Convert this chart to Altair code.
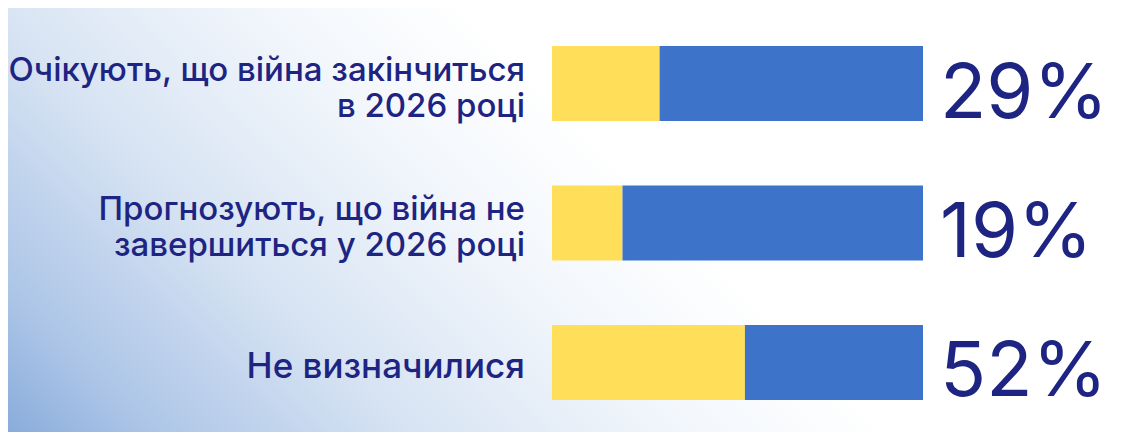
import altair as alt
import pandas as pd

categories = [
    "Очікують, що війна закінчиться\nв 2026 році",
    "Прогнозують, що війна не\nзавершиться у 2026 році",
    "Не визначилися",
]
values = [29, 19, 52]
pct_labels = ["29%", "19%", "52%"]

df = pd.DataFrame({"cat": categories, "value": values, "pct": pct_labels})

W, H = 1106, 424
NAVY = "#1E2482"
YELLOW = "#FFDE59"
BLUE = "#3D73C9"
LH = 36

xscale = alt.Scale(domain=[0, 100], range=[544, 915])
yscale = alt.Scale(domain=categories, range=[38, 392], paddingInner=0.462, paddingOuter=0)

bg = alt.Chart(pd.DataFrame({"a": [0]})).mark_rect(
    fill={
        "gradient": "linear",
        "x1": 0, "y1": 1.03, "x2": 0.709, "y2": 0.758,
        "stops": [
            {"offset": 0, "color": "#86AADA"},
            {"offset": 0.17, "color": "#ACC5E7"},
            {"offset": 0.47, "color": "#D8E4F3"},
            {"offset": 0.78, "color": "#F3F7FC"},
            {"offset": 1, "color": "#FFFFFF"},
        ],
    }
).encode(x=alt.value(0), x2=alt.value(W), y=alt.value(0), y2=alt.value(H))

base = alt.Chart(df).transform_calculate(zero="0", full="100")

yellow = base.mark_bar(color=YELLOW).encode(
    x=alt.X("zero:Q", scale=xscale, axis=None),
    x2="value:Q",
    y=alt.Y("cat:N", scale=yscale, axis=None, sort=None),
)
blue = base.mark_bar(color=BLUE).encode(
    x=alt.X("value:Q", scale=xscale, axis=None),
    x2="full:Q",
    y=alt.Y("cat:N", scale=yscale, axis=None, sort=None),
)

label_style = dict(
    align="right", baseline="middle", font="Inter", fontWeight=500,
    lineHeight=LH, lineBreak="\n", color=NAVY,
)
label_enc = dict(
    x=alt.value(517),
    y=alt.Y("cat:N", scale=yscale, axis=None, sort=None),
    text="cat:N",
)
labels_multi = base.transform_filter("indexof(datum.cat, '\\n') >= 0").mark_text(
    dy=5 - LH / 2, fontSize=33, **label_style
).encode(**label_enc)
labels_single = base.transform_filter("indexof(datum.cat, '\\n') < 0").mark_text(
    dy=5, fontSize=35, **label_style
).encode(**label_enc)

pcts = base.mark_text(
    align="left", baseline="alphabetic", font="Inter", fontSize=76, color=NAVY, dy=34,
).encode(
    x=alt.value(932),
    y=alt.Y("cat:N", scale=yscale, axis=None, sort=None),
    text="pct:N",
)

chart = alt.layer(bg, yellow, blue, labels_multi, labels_single, pcts).properties(
    width=W, height=H, padding=0, autosize=alt.AutoSizeParams(type="none")
).configure_view(stroke=None)

chart.save("out.html", embed_options={"renderer": "svg", "actions": False})
